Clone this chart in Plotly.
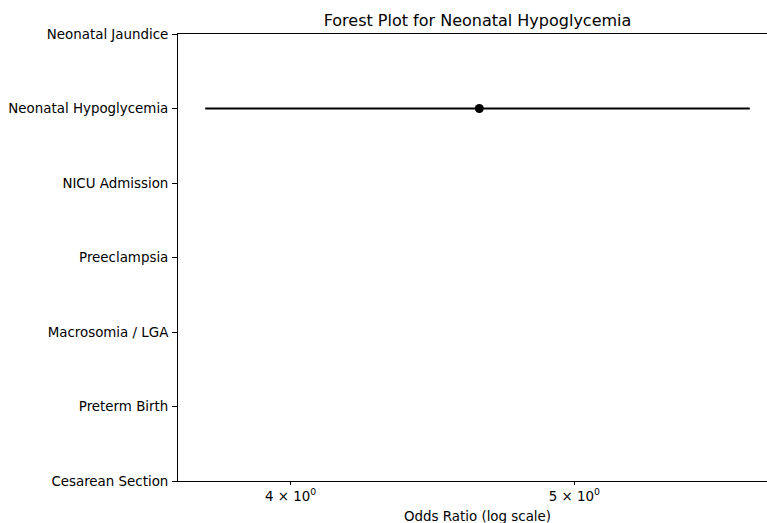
import plotly.graph_objects as go
import math

# Data
outcomes = ["Cesarean Section", "Preterm Birth", "Macrosomia / LGA", "Preeclampsia",
            "NICU Admission", "Neonatal Hypoglycemia", "Neonatal Jaundice"]
plot_outcomes = ["Neonatal Hypoglycemia"]
odds_ratio = [4.64]
ci_low = [3.74]
ci_high = [5.74]
x_ticks = [4, 5]
x_tick_labels = ["4 × 10<sup>0</sup>", "5 × 10<sup>0</sup>"]

W, H = 767, 523
L, R, T, B = 178, 0, 34, 42

fig = go.Figure()
fig.add_trace(go.Scatter(
    x=odds_ratio,
    y=plot_outcomes,
    mode="markers",
    marker=dict(color="black", size=9, symbol="circle"),
    error_x=dict(
        type="data", symmetric=False,
        array=[h - o for h, o in zip(ci_high, odds_ratio)],
        arrayminus=[o - l for o, l in zip(odds_ratio, ci_low)],
        color="black", thickness=2, width=0,
    ),
    showlegend=False,
))

# x range: matplotlib 5% margins in log space; right side clipped at figure edge
lo = math.log10(min(ci_low))
hi = math.log10(max(ci_high))
span = hi - lo
x0 = lo - 0.05 * span
x1_full = hi + 0.05 * span
axes_px_full = 777 - 178
x1 = x0 + (x1_full - x0) * (W - L - R) / axes_px_full

font = dict(family="DejaVu Sans", size=13.4, color="black")

fig.update_layout(
    width=W, height=H,
    margin=dict(l=L, r=R, t=T, b=B, pad=0),
    paper_bgcolor="white", plot_bgcolor="white",
    font=font,
    title=dict(text="Forest Plot for Neonatal Hypoglycemia",
               x=477.5 / W,
               xanchor="center", xref="container",
               y=1 - 20 / H, yanchor="middle", yref="container",
               font=dict(family="DejaVu Sans", size=16, color="black")),
    xaxis=dict(
        type="log", range=[x0, x1],
        tickvals=x_ticks, ticktext=x_tick_labels,
        ticks="outside", ticklen=3, tickwidth=1, tickcolor="black",
        showline=True, linecolor="black", linewidth=1, mirror=True,
        showgrid=False, zeroline=False,
        tickfont=dict(family="DejaVu Sans", size=13.4, color="black"),
    ),
    yaxis=dict(
        type="category", categoryorder="array", categoryarray=outcomes,
        tickvals=outcomes, range=[0, 6],
        ticks="outside", ticklen=5, tickwidth=1, tickcolor="black",
        ticklabelstandoff=1,
        showline=True, linecolor="black", linewidth=1, mirror=False,
        showgrid=False, zeroline=False,
        tickfont=dict(family="DejaVu Sans", size=13.4, color="black"),
    ),
)

fig.add_annotation(
    text="Odds Ratio (log scale)", xref="paper", yref="paper",
    x=(477.5 - L) / (W - L - R), y=-(516 - 481) / (H - T - B),
    xanchor="center", yanchor="middle", showarrow=False,
    font=dict(family="DejaVu Sans", size=13.4, color="black"),
)

fig.write_html("out.html")
